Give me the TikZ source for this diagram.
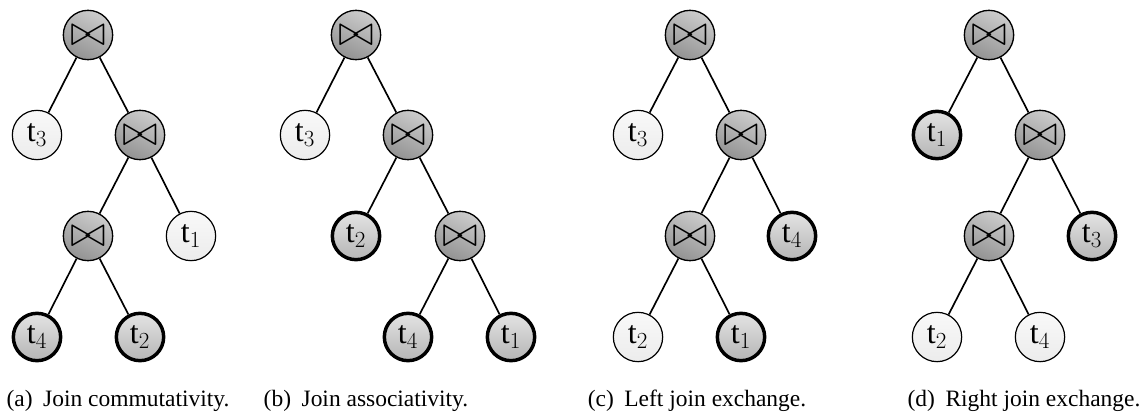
\documentclass[tikz,border=0pt]{standalone}
\usepackage{fontspec}
\setmainfont{Liberation Serif}
\begin{document}
\begin{tikzpicture}[x=0.75pt,y=-0.75pt,
  base/.style={circle,minimum size=37pt,inner sep=0pt,font=\fontsize{24}{26}\selectfont},
  joinnode/.style={base,draw=black,line width=1pt,top color=gray!40,bottom color=gray!85,shading angle=-25},
  hot/.style={base,draw=black,line width=2.6pt,minimum size=35.5pt,top color=gray!22,bottom color=gray!58},
  cold/.style={base,draw=black,line width=0.9pt,top color=gray!5,bottom color=gray!15},
  edge/.style={line width=1.25pt},
  captext/.style={font=\fontsize{17.6}{20}\selectfont,anchor=base}]
\useasboundingbox (0,0) rectangle (1148,414);
\newcommand{\bt}{\scalebox{1.3}{$\bowtie$}}
% (a)
\node[joinnode] (ar) at (88,35) {\bt};
\node[cold] (at3) at (37,135) {$\mathrm{t}_3$};
\node[joinnode] (aj2) at (140,135) {\bt};
\node[joinnode] (aj3) at (88,236) {\bt};
\node[cold] (at1) at (191,236) {$\mathrm{t}_1$};
\node[hot] (at4) at (37,337) {$\mathrm{t}_4$};
\node[hot] (at2) at (140,337) {$\mathrm{t}_2$};
\draw[edge] (ar)--(at3) (ar)--(aj2) (aj2)--(aj3) (aj2)--(at1) (aj3)--(at4) (aj3)--(at2);
% (b)
\node[joinnode] (br) at (356,35) {\bt};
\node[cold] (bt3) at (305,135) {$\mathrm{t}_3$};
\node[joinnode] (bj2) at (408,135) {\bt};
\node[hot] (bt2) at (356,236) {$\mathrm{t}_2$};
\node[joinnode] (bj3) at (460,236) {\bt};
\node[hot] (bt4) at (408,337) {$\mathrm{t}_4$};
\node[hot] (bt1) at (511,337) {$\mathrm{t}_1$};
\draw[edge] (br)--(bt3) (br)--(bj2) (bj2)--(bt2) (bj2)--(bj3) (bj3)--(bt4) (bj3)--(bt1);
% (c)
\node[joinnode] (cr) at (690,35) {\bt};
\node[cold] (ct3) at (638,135) {$\mathrm{t}_3$};
\node[joinnode] (cj2) at (741,135) {\bt};
\node[joinnode] (cj3) at (690,236) {\bt};
\node[hot] (ct4) at (792,236) {$\mathrm{t}_4$};
\node[cold] (ct2) at (638,337) {$\mathrm{t}_2$};
\node[hot] (ct1) at (741,337) {$\mathrm{t}_1$};
\draw[edge] (cr)--(ct3) (cr)--(cj2) (cj2)--(cj3) (cj2)--(ct4) (cj3)--(ct2) (cj3)--(ct1);
% (d)
\node[joinnode] (dr) at (989,35) {\bt};
\node[hot] (dt1) at (937,135) {$\mathrm{t}_1$};
\node[joinnode] (dj2) at (1040,135) {\bt};
\node[joinnode] (dj3) at (989,236) {\bt};
\node[hot] (dt3) at (1092,236) {$\mathrm{t}_3$};
\node[cold] (dt2) at (937,337) {$\mathrm{t}_2$};
\node[cold] (dt4) at (1040,337) {$\mathrm{t}_4$};
\draw[edge] (dr)--(dt1) (dr)--(dj2) (dj2)--(dj3) (dj2)--(dt3) (dj3)--(dt2) (dj3)--(dt4);
% captions
\node[captext] (capa) at (118,406) {(a)\hspace{0.45em}Join commutativity.};
\node[captext] (capb) at (366,406) {(b)\hspace{0.45em}Join associativity.};
\node[captext] (capc) at (697,406) {(c)\hspace{0.45em}Left join exchange.};
\node[captext] (capd) at (1024,406) {(d)\hspace{0.45em}Right join exchange.};
\end{tikzpicture}
\end{document}
